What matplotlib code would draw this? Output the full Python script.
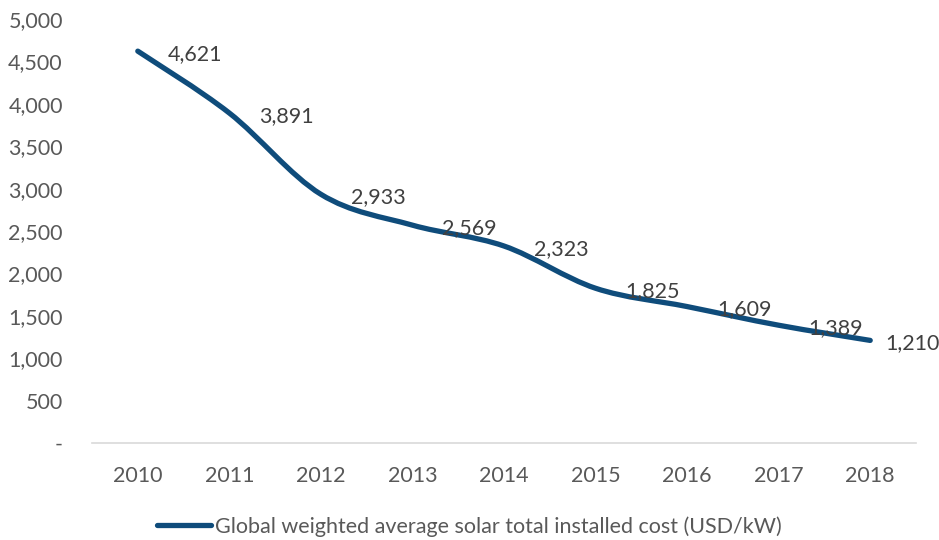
import numpy as np
import matplotlib
matplotlib.use("Agg")
import matplotlib.pyplot as plt
from matplotlib.path import Path
from matplotlib.patches import PathPatch
from matplotlib.lines import Line2D

years = ["2010", "2011", "2012", "2013", "2014", "2015", "2016", "2017", "2018"]
cost = [4621, 3891, 2933, 2569, 2323, 1825, 1609, 1389, 1210]
series_name = "Global weighted average solar total installed cost (USD/kW)"
yticks = [0, 500, 1000, 1500, 2000, 2500, 3000, 3500, 4000, 4500, 5000]
ytick_labels = ["-", "500", "1,000", "1,500", "2,000", "2,500", "3,000", "3,500", "4,000", "4,500", "5,000"]

plt.rcParams['font.family'] = ['Lato', 'DejaVu Sans']
color = "#0F4C7B"
text_color = "#404040"
axis_text = "#595959"
fs = 15.5

fig = plt.figure(figsize=(9.39, 5.4), dpi=100)
ax = fig.add_axes([0.098, 0.1796, 0.8775, 0.7852])

x = np.arange(len(years), dtype=float)
y = np.array(cost, dtype=float)
pts = np.column_stack([x, y])

# Excel-style smoothed line (cubic Bezier through points)
verts = [tuple(pts[0])]
codes = [Path.MOVETO]
n = len(pts)
for i in range(n - 1):
    p0 = pts[i - 1] if i > 0 else pts[i]
    p1 = pts[i]
    p2 = pts[i + 1]
    p3 = pts[i + 2] if i + 2 < n else pts[i + 1]
    c1 = p1 + (p2 - p0) / 6.0
    c2 = p2 - (p3 - p1) / 6.0
    verts += [tuple(c1), tuple(c2), tuple(p2)]
    codes += [Path.CURVE4] * 3
patch = PathPatch(Path(verts, codes), facecolor="none", edgecolor=color,
                  linewidth=3.8, capstyle="round", joinstyle="round", zorder=3)
ax.add_patch(patch)

ax.set_xlim(-0.5, len(years) - 0.5)
ax.set_ylim(0, 5000)
ax.set_xticks(x)
ax.set_xticklabels(years)
ax.set_yticks(yticks)
ax.set_yticklabels(ytick_labels)
ax.tick_params(axis="both", length=0, labelsize=fs, labelcolor=axis_text)
ax.tick_params(axis="x", pad=16.5)
ax.tick_params(axis="y", pad=21)
for s in ["top", "right", "left"]:
    ax.spines[s].set_visible(False)
ax.spines["bottom"].set_color("#D9D9D9")
ax.spines["bottom"].set_linewidth(1.2)

# data labels to the right of each point
offsets = [30] * (n - 1) + [15]
for xi, yi, off in zip(x, y, offsets):
    ax.annotate(f"{int(yi):,}", (xi, yi), xytext=(off * 0.72, -2),
                textcoords="offset points", ha="left", va="center",
                fontsize=fs, color=text_color, zorder=4)

handle = Line2D([], [], color=color, linewidth=3.8, solid_capstyle="round")
fig.legend([handle], [series_name], loc="center", bbox_to_anchor=(0.5, 0.025),
           frameon=False, fontsize=fs, handlelength=2.5, handletextpad=0.2,
           labelcolor=axis_text)

fig.savefig("out.png", dpi=100)
